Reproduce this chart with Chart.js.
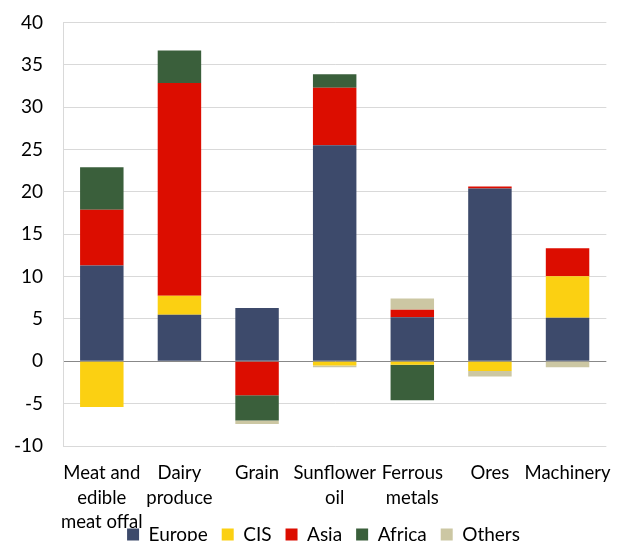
<!DOCTYPE html>
<html>
<head>
<meta charset="utf-8">
<script src="https://cdn.jsdelivr.net/npm/chart.js@4/dist/chart.umd.min.js"></script>
<style>
  html, body { margin: 0; padding: 0; background: #fff; }
  #wrap { width: 618px; height: 541px; overflow: hidden; position: relative; }
  #box { width: 618px; height: 577px; }
</style>
</head>
<body>
<div id="wrap"><div id="box"><canvas id="c"></canvas></div></div>
<script>
// Product groups (multi-line labels under each bar)
const categories = [
  ['Meat and', 'edible', 'meat offal'],
  ['Dairy', 'produce'],
  'Grain',
  ['Sunflower', 'oil'],
  ['Ferrous', 'metals'],
  'Ores',
  'Machinery'
];

// Contribution by region, per product group
const europe = [11.3, 5.5, 6.3, 25.5, 5.2, 20.4, 5.15];
const cis    = [-5.4, 2.25, 0, -0.5, -0.4, -1.15, 4.9];
const asia   = [6.6, 25.1, -4.0, 6.8, 0.9, 0.25, 3.3];
const africa = [5.0, 3.85, -3.0, 1.6, -4.2, 0, 0];
const others = [0, 0, -0.4, -0.2, 1.3, -0.65, -0.7];

// Value axis
const yMin = -10, yMax = 40, yStep = 5;

const seriesNames = ['Europe', 'CIS', 'Asia', 'Africa', 'Others'];
const seriesData = [europe, cis, asia, africa, others];
const seriesColors = ['#3d4a6b', '#fbd012', '#dc0d00', '#3a5f3b', '#ccc7a3'];

const FONT = 'Lato';

// Pull the legend up so it tucks right under the category labels,
// and nudge it to the right a little.
const legendNudge = {
  id: 'legendNudge',
  afterLayout(chart) {
    const lg = chart.legend;
    if (!lg) return;
    const dy = -23, dx = 17.5;
    lg.top += dy; lg.bottom += dy;
    lg.left += dx; lg.right += dx;
  }
};

new Chart(document.getElementById('c'), {
  type: 'bar',
  data: {
    labels: categories,
    datasets: seriesNames.map((name, i) => ({
      label: name,
      // empty segments are left out rather than drawn with zero height
      data: seriesData[i].map(v => (v === 0 ? null : v)),
      backgroundColor: seriesColors[i],
      borderWidth: 0,
      categoryPercentage: 0.8,
      barPercentage: 0.7
    }))
  },
  plugins: [legendNudge],
  options: {
    responsive: true,
    maintainAspectRatio: false,
    animation: false,
    events: [],
    layout: { padding: { left: 0, right: 6, top: 22.5, bottom: 0 } },
    plugins: {
      tooltip: { enabled: false },
      legend: {
        position: 'bottom',
        labels: {
          color: '#000',
          font: { family: FONT, size: 19 },
          boxWidth: 12,
          boxHeight: 12,
          padding: 14
        }
      }
    },
    scales: {
      x: {
        stacked: true,
        grid: { display: false },
        border: { display: false },
        ticks: {
          color: '#000',
          font: { family: FONT, size: 18.5, lineHeight: 1.32 },
          padding: 7,
          maxRotation: 0,
          autoSkip: false
        },
        afterFit: (scale) => { scale.height = 88; }
      },
      y: {
        stacked: true,
        min: yMin,
        max: yMax,
        ticks: {
          stepSize: yStep,
          color: '#000',
          font: { family: FONT, size: 19 },
          padding: 20
        },
        grid: {
          drawTicks: false,
          color: (ctx) => (ctx.tick && ctx.tick.value === 0 ? '#888888' : '#d9d9d9'),
          lineWidth: 1
        },
        border: { display: true, color: '#d9d9d9' },
        afterFit: (scale) => {
          scale.width = 63;
          scale.paddingTop = 0;
          scale.paddingBottom = 0;
        }
      }
    }
  }
});
</script>
</body>
</html>
